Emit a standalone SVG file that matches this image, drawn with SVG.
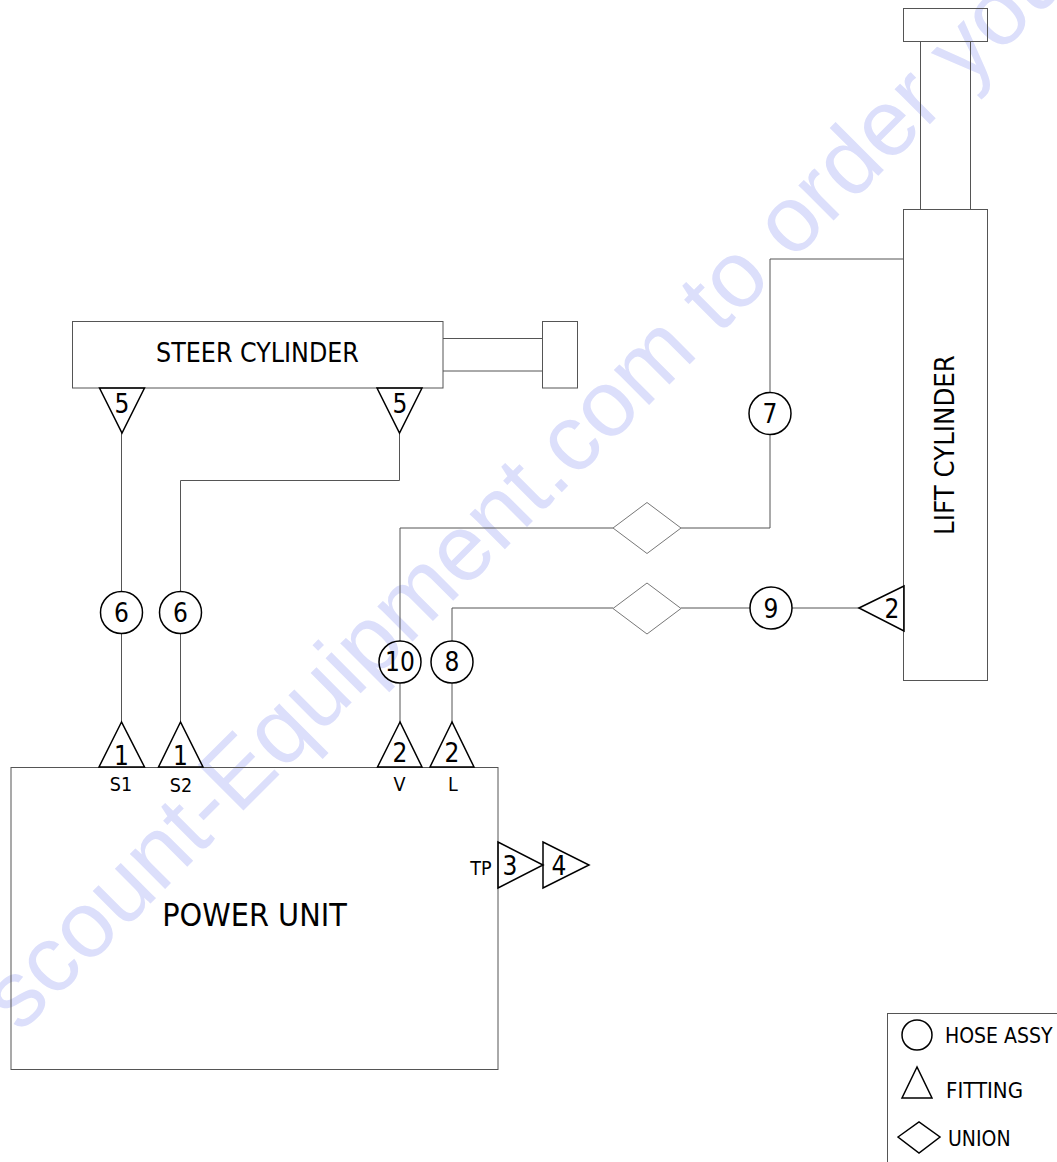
<svg xmlns="http://www.w3.org/2000/svg" width="1057" height="1162" viewBox="0 0 1057 1162">
<style>
.b{fill:none;stroke:#555;stroke-width:1}
.c{fill:none;stroke:#555;stroke-width:1}
.s{fill:none;stroke:#000;stroke-width:1.5}
.u{fill:none;stroke:#777;stroke-width:1}
text{font-family:"DejaVu Sans Condensed","DejaVu Sans",sans-serif;fill:#000}
.n{font-size:26px;text-anchor:middle}
.t{font-size:19.5px;text-anchor:middle}
.w{font-family:"Liberation Sans",Arial,sans-serif;font-size:94px;fill:#dcdffb}
</style>
<rect width="1057" height="1162" fill="#fff"/>
<text class="w" transform="translate(20 1034) rotate(-45)">scount-Equipment.com to order you</text>
<g id="connectors">
<path class="c" d="M121.500 433V591M121.500 633V722"/>
<path class="c" d="M399.500 433V480.500H180.500V591M180.500 633V722"/>
<path class="c" d="M400 722V683M400 641V528H613M681 528H770V434.500M770 392.500V259H904"/>
<path class="c" d="M452 722V683M452 641V608H613M681 608H750M792 608H859"/>
<path class="c" d="M443 338.500H542.500M443 371H542.500"/>
<path class="c" d="M920.500 41.500V209.500M970.500 41.500V209.500"/>
</g>
<g id="steer-cylinder"><rect class="b" x="72.500" y="321.500" width="370.500" height="66.500"/><text x="257.500" y="362" font-size="26.500" text-anchor="middle">STEER CYLINDER</text></g>
<g id="steer-rod-end"><rect class="b" x="542.500" y="321.500" width="35" height="66.500"/></g>
<g id="lift-cylinder"><rect class="b" x="903.500" y="209.500" width="84" height="471"/><text font-size="27.300" text-anchor="middle" transform="translate(954 445) rotate(-90)">LIFT CYLINDER</text></g>
<g id="lift-rod-end"><rect class="b" x="903.500" y="8.500" width="84" height="33"/></g>
<g id="power-unit"><rect class="b" x="11" y="767.500" width="487" height="302"/><text x="254.500" y="926" font-size="32" text-anchor="middle">POWER UNIT</text>
<text class="t" x="121" y="791">S1</text><text class="t" x="181" y="792">S2</text><text class="t" x="399.500" y="791">V</text><text class="t" x="453" y="791">L</text><text class="t" x="481" y="875">TP</text></g>
<g id="fit-5a"><polygon class="s" points="99.500,388 144.500,388 122,433"/><text class="n" x="122" y="413">5</text></g>
<g id="fit-5b"><polygon class="s" points="377,388 422,388 399.500,433"/><text class="n" x="400" y="413">5</text></g>
<g id="fit-1a"><polygon class="s" points="121.500,722 99,767 144.500,767"/><text class="n" x="121.500" y="765">1</text></g>
<g id="fit-1b"><polygon class="s" points="180.500,722 158.500,767 203,767"/><text class="n" x="180.500" y="765">1</text></g>
<g id="fit-2a"><polygon class="s" points="400,722 377.500,767 422,767"/><text class="n" x="400" y="762">2</text></g>
<g id="fit-2b"><polygon class="s" points="452,722 430,767 474,767"/><text class="n" x="452" y="762">2</text></g>
<g id="fit-2c"><polygon class="s" points="859,608 904,586 904,631"/><text class="n" x="892" y="618">2</text></g>
<g id="fit-3"><polygon class="s" points="498,842 498,888 543,865"/><text class="n" x="510" y="875">3</text></g>
<g id="fit-4"><polygon class="s" points="543,842 543,888 589,865"/><text class="n" x="559" y="875">4</text></g>
<g id="hose-6a"><circle class="s" cx="121.500" cy="612.500" r="21"/><text class="n" x="121.500" y="622">6</text></g>
<g id="hose-6b"><circle class="s" cx="180.500" cy="612.500" r="21"/><text class="n" x="180.500" y="622">6</text></g>
<g id="hose-10"><circle class="s" cx="400" cy="662" r="21"/><text class="n" x="400" y="671">10</text></g>
<g id="hose-8"><circle class="s" cx="452" cy="662" r="21"/><text class="n" x="452" y="671">8</text></g>
<g id="hose-7"><circle class="s" cx="770" cy="413.500" r="21"/><text class="n" x="770" y="423">7</text></g>
<g id="hose-9"><circle class="s" cx="771" cy="608" r="21"/><text class="n" x="771" y="618">9</text></g>
<g id="union-a"><polygon class="u" points="613,528 647,502.500 681,528 647,553.500"/></g>
<g id="union-b"><polygon class="u" points="613,608.500 647,583 681,608.500 647,634"/></g>
<g id="legend"><rect class="b" x="887.500" y="1013.500" width="200" height="200"/>
<circle class="s" cx="917" cy="1035" r="15"/><text x="945" y="1043" font-size="21">HOSE ASSY</text>
<polygon class="s" points="917,1067 902,1098 932,1098"/><text x="946" y="1098" font-size="22">FITTING</text>
<polygon class="s" points="898,1137 919,1122 940,1137 919,1153"/><text x="948" y="1146" font-size="21">UNION</text></g>
</svg>
